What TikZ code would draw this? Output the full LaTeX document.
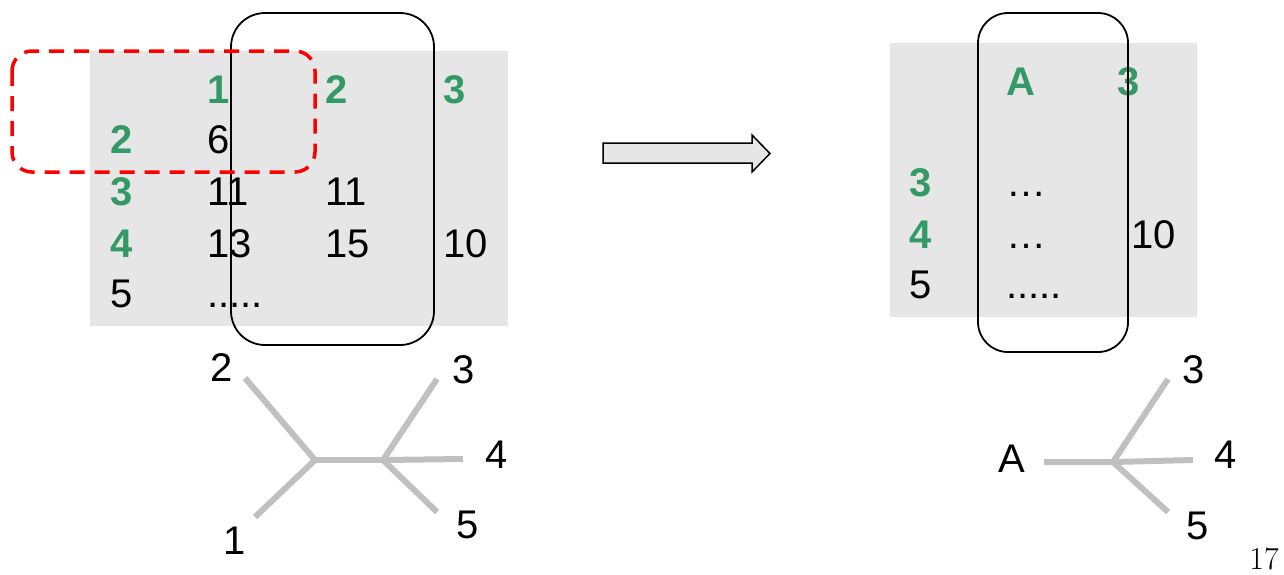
\documentclass[tikz,border=0pt]{standalone}
\usepackage{fontspec}
\setmainfont{Liberation Sans}
\newfontfamily\pagefont{Latin Modern Roman}
\definecolor{tgreen}{HTML}{339966}
\definecolor{bggray}{HTML}{E6E6E6}
\definecolor{treegray}{HTML}{C0C0C0}
\begin{document}
\begin{tikzpicture}[x=1pt,y=-1pt,
  txt/.style={font=\fontsize{40}{44}\selectfont, inner sep=0pt, anchor=base west},
  gtxt/.style={txt, text=tgreen, font=\fontsize{40}{44}\selectfont\bfseries},
  lbl/.style={font=\fontsize{40}{44}\selectfont, inner sep=0pt, anchor=center},
  treeedge/.style={draw=treegray, line width=6pt},
  bg/.style={fill=bggray, draw=none},
  selbox/.style={draw=black, line width=1.8pt, rounded corners=34pt},
  redbox/.style={draw=red, line width=3.5pt, dash pattern=on 15pt off 10pt, rounded corners=20pt},
  blockarrow/.style={draw=black, fill=bggray, line width=1.5pt}]
\useasboundingbox (0,0) rectangle (1284,574);

% ---------- left table ----------
\path[bg] (90,51) rectangle (508,326);
\node[gtxt] (h1) at (207,103) {1};
\node[gtxt] (h2) at (325,103) {2};
\node[gtxt] (h3) at (443,103) {3};
\node[gtxt] (r2) at (110,153) {2};
\node[gtxt] (r3) at (110,205) {3};
\node[gtxt] (r4) at (110,257) {4};
\node[txt] (r5) at (110,307) {5};
\node[txt] (c26) at (207,153) {6};
\node[txt] (c311) at (207,205) {11};
\node[txt] (c3b) at (325,205) {11};
\node[txt] (c413) at (207,257) {13};
\node[txt] (c415) at (325,257) {15};
\node[txt] (c410) at (443,257) {10};
\node[txt] (c5d) at (207,307) {.....};
\draw[selbox] (231,13) rectangle (434,345);
\draw[redbox] (12,51) rectangle (315,172);

% ---------- left tree ----------
\coordinate (u) at (315,460);
\coordinate (v) at (383,460);
\coordinate (e2) at (245,378);
\coordinate (e1) at (255,517);
\coordinate (e3) at (437,379);
\coordinate (e4) at (463,459);
\coordinate (e5) at (437,512);
\draw[treeedge] (e2) -- (u) -- (e1);
\draw[treeedge] (u) -- (v);
\draw[treeedge] (e3) -- (v) -- (e5);
\draw[treeedge] (v) -- (e4);
\node[lbl] (l2) at (222,368) {2};
\node[lbl] (l1) at (235,541) {1};
\node[lbl] (l3) at (464,370) {3};
\node[lbl] (l4) at (497,455) {4};
\node[lbl] (l5) at (468,525) {5};

% ---------- block arrow ----------
\draw[blockarrow] (603,143) -- (752,143) -- (752,135) -- (770,153.5) -- (752,172) -- (752,163) -- (603,163) -- cycle;

% ---------- right table ----------
\path[bg] (890,43) rectangle (1197,317);
\node[gtxt] (hA) at (1006,95) {A};
\node[gtxt] (hR3) at (1117,95) {3};
\node[gtxt] (rr3) at (909,196) {3};
\node[gtxt] (rr4) at (909,248) {4};
\node[txt] (rr5) at (909,298) {5};
\node[txt] (d3) at (1006,196) {…};
\node[txt] (d4) at (1006,248) {…};
\node[txt] (d5) at (1006,298) {.....};
\node[txt] (d10) at (1131,248) {10};
\draw[selbox, rounded corners=30pt] (978,13) rectangle (1128,352);

% ---------- right tree ----------
\coordinate (w) at (1113,462);
\coordinate (fA) at (1044,462);
\coordinate (f3) at (1168,379);
\coordinate (f4) at (1193,460);
\coordinate (f5) at (1168,512);
\draw[treeedge] (fA) -- (w) -- (f4);
\draw[treeedge] (f3) -- (w) -- (f5);
\node[lbl] (lA) at (1012,459) {A};
\node[lbl] (m3) at (1194,370) {3};
\node[lbl] (m4) at (1226,455) {4};
\node[lbl] (m5) at (1198,526) {5};

% ---------- page number ----------
\node[font=\pagefont\fontsize{32}{36}\selectfont, inner sep=0pt, anchor=center] (pg) at (1264,559) {17};
\end{tikzpicture}
\end{document}
